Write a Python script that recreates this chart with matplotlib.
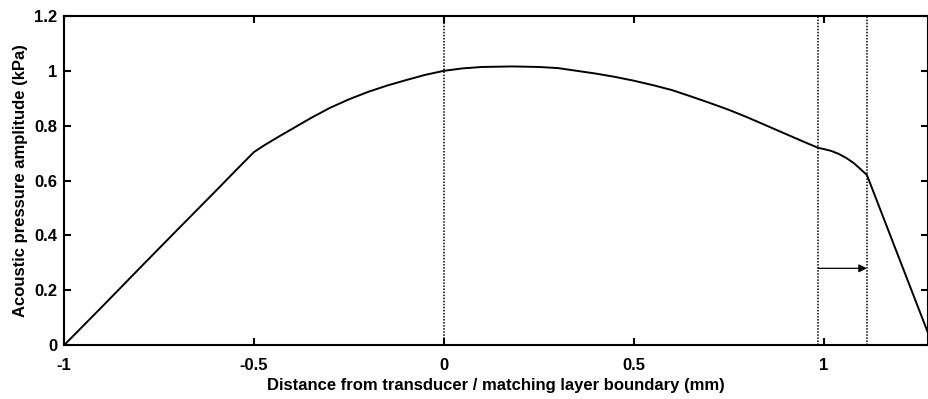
import numpy as np
import matplotlib.pyplot as plt

plt.rcParams['font.family'] = ['Liberation Sans', 'DejaVu Sans']
plt.rcParams['font.weight'] = 'bold'

# pressure amplitude along the propagation axis (mm, kPa)
dist = [-1.0, -0.9, -0.8, -0.7, -0.6, -0.55, -0.5,
        -0.47, -0.43, -0.4, -0.35, -0.3, -0.25, -0.2, -0.15, -0.1, -0.05,
        0.0, 0.05, 0.1, 0.18, 0.25, 0.3, 0.35, 0.4, 0.45, 0.5,
        0.55, 0.6, 0.65, 0.7, 0.75, 0.8, 0.85, 0.9, 0.95, 0.986,
        1.0, 1.02, 1.04, 1.06, 1.08, 1.1, 1.114,
        1.275]
pressure = [0.0, 0.14, 0.282, 0.423, 0.563, 0.634, 0.704,
            0.731, 0.764, 0.788, 0.828, 0.865, 0.896, 0.923, 0.946, 0.966, 0.985,
            1.0, 1.009, 1.014, 1.016, 1.014, 1.01, 1.0, 0.99, 0.978, 0.964,
            0.948, 0.93, 0.907, 0.883, 0.858, 0.83, 0.8, 0.77, 0.74, 0.719,
            0.715, 0.708, 0.697, 0.682, 0.663, 0.638, 0.62,
            0.044]

# layer boundaries and shift arrow
boundaries = [0.0, 0.986, 1.114]
arrow_y = 0.28

fig = plt.figure(figsize=(9.29, 3.99), dpi=100)
ax = fig.add_axes([0.069, 0.135, 0.93, 0.825])

ax.plot(dist, pressure, color='black', lw=1.4)
for b in boundaries:
    ax.axvline(b, color='black', lw=1.1, linestyle=(0, (1, 1)))
ax.annotate('', xy=(boundaries[2], arrow_y), xytext=(boundaries[1], arrow_y),
            arrowprops=dict(arrowstyle='-|>', color='black', lw=0.9,
                            mutation_scale=12, shrinkA=0, shrinkB=0))

ax.set_xlim(-1, 1.275)
ax.set_ylim(0, 1.2)
ax.set_xticks([-1, -0.5, 0, 0.5, 1])
ax.set_xticklabels(['-1', '-0.5', '0', '0.5', '1'])
ax.set_yticks([0, 0.2, 0.4, 0.6, 0.8, 1.0, 1.2])
ax.set_yticklabels(['0', '0.2', '0.4', '0.6', '0.8', '1', '1.2'])
ax.tick_params(direction='in', length=5, width=1.5, top=True, right=True,
               labelsize=12)
ax.tick_params(axis='x', pad=9)
ax.tick_params(axis='y', pad=5)
for s in ax.spines.values():
    s.set_linewidth(1.5)

ax.set_xlabel('Distance from transducer / matching layer boundary (mm)',
              fontsize=12, fontweight='bold', labelpad=4)
ax.set_ylabel('Acoustic pressure amplitude (kPa)', fontsize=12,
              fontweight='bold', labelpad=4)

fig.savefig('out.png', dpi=100)
